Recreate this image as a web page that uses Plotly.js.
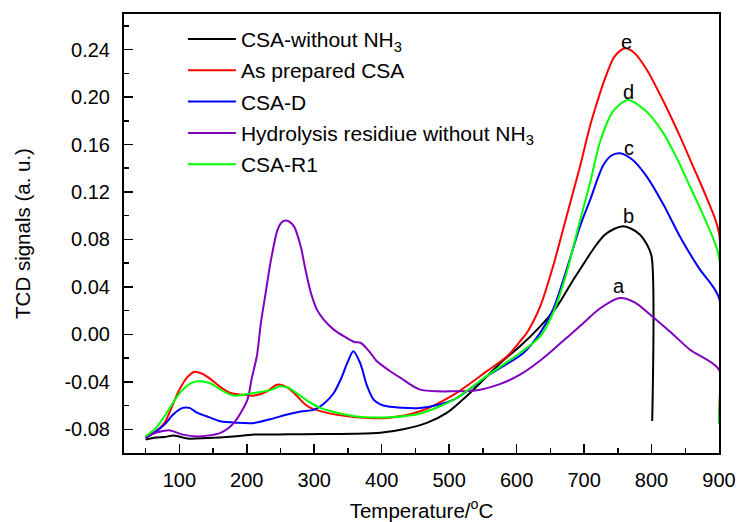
<!DOCTYPE html>
<html>
<head>
<meta charset="utf-8">
<script src="https://cdn.plot.ly/plotly-3.0.1.min.js"></script>
<style>html,body{margin:0;padding:0;background:#fff}#chart{width:738px;height:522px}</style>
</head>
<body>
<div id="chart"></div>
<script>
// ---- data ----
var seriesNames = ['CSA-without NH<sub>3</sub>', 'As prepared CSA', 'CSA-D', 'Hydrolysis residiue without NH<sub>3</sub>', 'CSA-R1'];
var seriesColors = ['#000000', '#ff0000', '#0000ff', '#8000c0', '#00ff00'];

var blackX = [50, 65, 78, 92, 112, 141, 180, 211, 260, 309, 360, 398, 432, 467, 497, 526, 556, 580, 605, 635, 660, 684, 700, 715, 730, 745, 756, 770, 783, 793, 800, 801];
var blackY = [-0.0887, -0.087, -0.0865, -0.0853, -0.0878, -0.0873, -0.086, -0.0845, -0.0843, -0.084, -0.0838, -0.083, -0.080, -0.0746, -0.066, -0.052, -0.0353, -0.022, -0.0101, 0.0067, 0.0236, 0.046, 0.060, 0.073, 0.0835, 0.089, 0.091, 0.089, 0.084, 0.076, 0.066, -0.073];

var redX = [50, 65, 78, 100, 112, 122, 133, 144, 160, 176, 195, 211, 230, 245, 258, 270, 290, 319, 359, 408, 457, 507, 556, 586, 605, 615, 635, 654, 674, 694, 709, 719, 730, 745, 760, 775, 793, 818, 842, 862, 881, 900, 900];
var redY = [-0.0873, -0.082, -0.0746, -0.0466, -0.036, -0.0317, -0.033, -0.0367, -0.044, -0.0494, -0.051, -0.0516, -0.048, -0.0424, -0.044, -0.0494, -0.0606, -0.0662, -0.0696, -0.0704, -0.0648, -0.0508, -0.031, -0.0185, -0.0059, 0.0012, 0.0236, 0.0573, 0.0994, 0.1415, 0.176, 0.195, 0.214, 0.234, 0.241, 0.237, 0.223, 0.196, 0.167, 0.141, 0.116, 0.0854, -0.075];

var blueX = [50, 65, 78, 92, 105, 115, 127, 145, 161, 185, 211, 235, 260, 280, 300, 315, 329, 340, 349, 358, 368, 378, 388, 398, 408, 457, 507, 556, 610, 635, 654, 674, 694, 709, 728, 740, 753, 770, 793, 818, 842, 870, 900, 900];
var blueY = [-0.087, -0.082, -0.076, -0.067, -0.062, -0.062, -0.0662, -0.070, -0.0733, -0.0745, -0.0747, -0.0715, -0.0676, -0.065, -0.0634, -0.058, -0.0494, -0.037, -0.0241, -0.0143, -0.0241, -0.043, -0.055, -0.059, -0.0606, -0.062, -0.055, -0.0353, -0.0157, 0.0012, 0.021, 0.0545, 0.091, 0.1134, 0.1420, 0.1505, 0.1527, 0.148, 0.133, 0.109, 0.0825, 0.056, 0.0306, -0.075];

var purpleX = [50, 68, 85, 105, 127, 161, 181, 201, 207, 215, 221, 228, 235, 245, 251, 257, 263, 270, 280, 287, 295, 304, 314, 329, 345, 359, 369, 381, 393, 410, 428, 457, 507, 546, 575, 605, 635, 664, 694, 724, 753, 775, 798, 828, 857, 900, 900];
var purpleY = [-0.086, -0.0825, -0.0808, -0.0845, -0.086, -0.083, -0.0746, -0.055, -0.038, -0.018, 0.010, 0.035, 0.060, 0.087, 0.094, 0.096, 0.095, 0.091, 0.074, 0.0545, 0.035, 0.0208, 0.0124, 0.004, -0.002, -0.0064, -0.0073, -0.014, -0.0227, -0.030, -0.0367, -0.0466, -0.048, -0.0466, -0.042, -0.034, -0.022, -0.008, 0.007, 0.022, 0.0306, 0.027, 0.0166, 0.002, -0.0129, -0.0297, -0.075];

var greenX = [50, 65, 78, 100, 115, 127, 145, 161, 181, 211, 235, 250, 262, 270, 290, 309, 359, 418, 457, 507, 556, 605, 635, 654, 674, 694, 709, 724, 743, 765, 792, 817, 837, 857, 880, 900, 900];
var greenY = [-0.086, -0.079, -0.069, -0.050, -0.042, -0.0396, -0.041, -0.0466, -0.0516, -0.0494, -0.047, -0.0438, -0.045, -0.048, -0.056, -0.062, -0.069, -0.0696, -0.0667, -0.055, -0.035, -0.0157, -0.0017, 0.018, 0.0517, 0.096, 0.128, 0.163, 0.188, 0.1976, 0.188, 0.170, 0.149, 0.1246, 0.096, 0.0652, -0.075];

var peakLabels = ['a', 'b', 'c', 'd', 'e'];
var peakLabelX = [752, 766, 766, 766, 763];
var peakLabelY = [0.0404, 0.0995, 0.157, 0.2046, 0.2467];

var xTickVals = [100, 200, 300, 400, 500, 600, 700, 800, 900];
var xTickText = ['100', '200', '300', '400', '500', '600', '700', '800', '900'];
var yTickVals = [-0.08, -0.04, 0.00, 0.04, 0.08, 0.12, 0.16, 0.20, 0.24];
var yTickText = ['-0.08', '-0.04', '0.00', '0.04', '0.08', '0.12', '0.16', '0.20', '0.24'];

// ---- build traces ----
var xs = [blackX, redX, blueX, purpleX, greenX];
var ys = [blackY, redY, blueY, purpleY, greenY];
var traces = [];
for (var i = 0; i < seriesNames.length; i++) {
  traces.push({
    x: xs[i], y: ys[i], type: 'scatter', mode: 'lines',
    name: seriesNames[i], legendgroup: 'g' + i,
    line: {color: seriesColors[i], width: 2, shape: 'spline', smoothing: 0.8}
  });
}

var font = 'Arial, "Liberation Sans", sans-serif';
var annotations = [];
for (var j = 0; j < peakLabels.length; j++) {
  annotations.push({x: peakLabelX[j], y: peakLabelY[j], xref: 'x', yref: 'y', text: peakLabels[j],
    showarrow: false, font: {family: font, size: 20, color: '#000'}, xanchor: 'center', yanchor: 'middle'});
}

var layout = {
  width: 738, height: 522,
  margin: {l: 124, r: 19, t: 14, b: 69},
  paper_bgcolor: '#fff', plot_bgcolor: '#fff',
  font: {family: font, size: 20, color: '#000'},
  showlegend: true,
  legend: {x: 0.099, y: 0.989, xanchor: 'left', yanchor: 'top', bgcolor: 'rgba(0,0,0,0)',
    font: {family: font, size: 21, color: '#000'}, tracegroupgap: 1, itemwidth: 48},
  xaxis: {
    range: [18, 900], showgrid: false, zeroline: false,
    showline: true, linecolor: '#000', linewidth: 2, mirror: true,
    tickmode: 'array', tickvals: xTickVals, ticktext: xTickText,
    ticks: 'inside', ticklen: 9, tickwidth: 1.5, tickcolor: '#000',
    minor: {tickmode: 'linear', tick0: 0, dtick: 50, ticks: 'inside', ticklen: 5, tickwidth: 1.5, tickcolor: '#000', showgrid: false},
    tickfont: {family: font, size: 20}, ticklabelstandoff: 8,
    title: {text: 'Temperature/<sup>o</sup>C', font: {family: font, size: 20.5}, standoff: 22}
  },
  yaxis: {
    range: [-0.1, 0.27], showgrid: false, zeroline: false,
    showline: true, linecolor: '#000', linewidth: 2, mirror: true,
    tickmode: 'array', tickvals: yTickVals, ticktext: yTickText,
    ticks: 'inside', ticklen: 9, tickwidth: 1.5, tickcolor: '#000',
    minor: {tickmode: 'linear', tick0: 0, dtick: 0.02, ticks: 'inside', ticklen: 5, tickwidth: 1.5, tickcolor: '#000', showgrid: false},
    tickfont: {family: font, size: 20}, ticklabelstandoff: 8,
    title: {text: 'TCD signals (a. u.)', font: {family: font, size: 20.5}, standoff: 28}
  },
  annotations: annotations
};

Plotly.newPlot('chart', traces, layout, {displayModeBar: false, staticPlot: true});
</script>
</body>
</html>
